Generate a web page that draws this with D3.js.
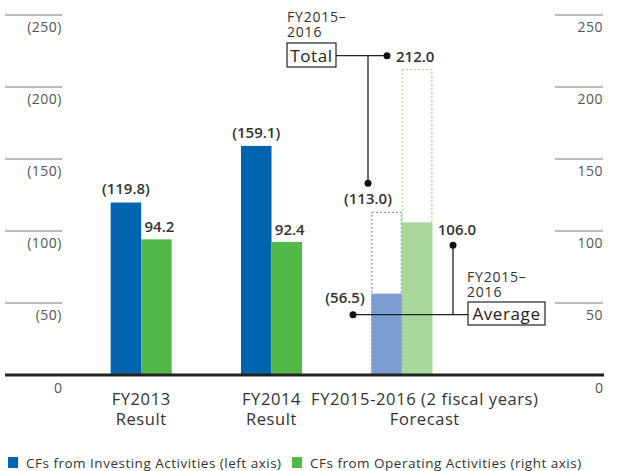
<!DOCTYPE html>
<html>
<head>
<meta charset="utf-8">
<script src="https://cdn.jsdelivr.net/npm/d3@7"></script>
<style>
  body { margin: 0; background: #fff; }
  text { font-family: "Open Sans", "Noto Sans", sans-serif; }
</style>
</head>
<body>
<div id="wrapper"></div>
<script>
// data
const categories = ["FY2013", "FY2014", "FY2015-2016"];
const categoryLines = [["FY2013", "Result"], ["FY2014", "Result"], ["FY2015-2016 (2 fiscal years)", "Forecast"]];
const investing = [119.8, 159.1, 56.5];     // left axis (shown in parentheses)
const operating = [94.2, 92.4, 106.0];      // right axis
const forecastTotals = { investing: 113.0, operating: 212.0 };
const ticks = [0, 50, 100, 150, 200, 250];
const legendLabels = ["CFs from Investing Activities (left axis)", "CFs from Operating Activities (right axis)"];

let dimensions = {
  width: 619,
  height: 471,
  top: 15,
  zero: 375
}

const blue = "#0064b1", green = "#52b848";
const lightBlue = "#7c9dd2", lightGreen = "#a9d69a";
const textColor = "#333333", axisText = "#555555";

let wrapper = d3.select("#wrapper").append("svg")
  .attr("width", dimensions.width)
  .attr("height", dimensions.height);
let container = wrapper.append("g");

let yLeft = d3.scaleLinear().domain([0, 250]).range([dimensions.zero, dimensions.top]);
let yRight = d3.scaleLinear().domain([0, 250]).range([dimensions.zero, dimensions.top]);
let xScale = d3.scaleBand().domain(categories).range([76, 467]).padding(0);
let xInner = d3.scaleBand().domain(["investing", "operating"]).range([-30.5, 30.5]);

const cx = c => xScale(c) + xScale.bandwidth() / 2;

// grid segments on each side
ticks.filter(t => t > 0).forEach(t => {
  container.append("line")
    .attr("x1", 5).attr("x2", 62)
    .attr("y1", yLeft(t)).attr("y2", yLeft(t))
    .attr("stroke", "#777").attr("stroke-width", 1);
  container.append("text")
    .attr("x", 62).attr("y", yLeft(t) + 17)
    .attr("text-anchor", "end")
    .style("font-size", 14).style("letter-spacing", "0.5px").attr("fill", axisText)
    .text("(" + t + ")");
  container.append("line")
    .attr("x1", 555).attr("x2", 603)
    .attr("y1", yRight(t)).attr("y2", yRight(t))
    .attr("stroke", "#777").attr("stroke-width", 1);
  container.append("text")
    .attr("x", 603).attr("y", yRight(t) + 17)
    .attr("text-anchor", "end")
    .style("font-size", 14).style("letter-spacing", "0.5px").attr("fill", axisText)
    .text(t);
});
container.append("text")
  .attr("x", 58).attr("y", yLeft(0) + 18)
  .attr("text-anchor", "middle")
  .style("font-size", 14).attr("fill", axisText).text("0");
container.append("text")
  .attr("x", 603).attr("y", yRight(0) + 18)
  .attr("text-anchor", "end")
  .style("font-size", 14).attr("fill", axisText).text("0");

// forecast dotted outlines (2-year totals)
const last = categories[2];
container.append("rect")
  .attr("x", cx(last) + xInner("investing") + 0.5)
  .attr("y", yLeft(forecastTotals.investing))
  .attr("width", xInner.bandwidth() - 1)
  .attr("height", yLeft(0) - yLeft(forecastTotals.investing))
  .attr("fill", "none").attr("stroke", lightBlue)
  .attr("stroke-width", 1.3).attr("stroke-dasharray", "2,2");
container.append("rect")
  .attr("x", cx(last) + xInner("operating") + 0.5)
  .attr("y", yRight(forecastTotals.operating))
  .attr("width", xInner.bandwidth() - 1)
  .attr("height", yRight(0) - yRight(forecastTotals.operating))
  .attr("fill", "none").attr("stroke", lightGreen)
  .attr("stroke-width", 1.3).attr("stroke-dasharray", "2,2");

// bars
container.selectAll("rect.inv")
  .data(investing)
  .enter()
  .append("rect")
  .attr("class", "inv")
  .attr("x", (d, i) => cx(categories[i]) + xInner("investing"))
  .attr("y", d => yLeft(d))
  .attr("width", xInner.bandwidth())
  .attr("height", d => yLeft(0) - yLeft(d))
  .attr("fill", (d, i) => i == 2 ? lightBlue : blue);

container.selectAll("rect.op")
  .data(operating)
  .enter()
  .append("rect")
  .attr("class", "op")
  .attr("x", (d, i) => cx(categories[i]) + xInner("operating"))
  .attr("y", d => yRight(d))
  .attr("width", xInner.bandwidth())
  .attr("height", d => yRight(0) - yRight(d))
  .attr("fill", (d, i) => i == 2 ? lightGreen : green);

// value labels for the two result years
[0, 1].forEach(i => {
  container.append("text")
    .attr("x", cx(categories[i]) + xInner("investing") + xInner.bandwidth() / 2)
    .attr("y", yLeft(investing[i]) - 8)
    .attr("text-anchor", "middle")
    .style("font-size", 15).style("font-weight", 600).attr("fill", textColor)
    .text("(" + investing[i].toFixed(1) + ")");
  container.append("text")
    .attr("x", cx(categories[i]) + xInner("operating") + xInner.bandwidth() / 2 + 3)
    .attr("y", yRight(operating[i]) - 7)
    .attr("text-anchor", "middle")
    .style("font-size", 15).style("font-weight", 600).attr("fill", textColor)
    .text(operating[i].toFixed(1));
});

// baseline
container.append("line")
  .attr("x1", 5).attr("x2", 604)
  .attr("y1", yLeft(0)).attr("y2", yLeft(0))
  .attr("stroke", "#222").attr("stroke-width", 3);

// category labels
const labelShift = [0, 0, 23];
categoryLines.forEach((lines, i) => {
  let t = container.append("text")
    .attr("text-anchor", "middle")
    .style("font-size", 16.5).style("letter-spacing", "0.6px").attr("fill", textColor);
  lines.forEach((s, j) => {
    t.append("tspan")
      .attr("x", cx(categories[i]) + labelShift[i])
      .attr("y", 405 + j * 20)
      .text(s);
  });
});

// callouts
function callBox(x, y, w, h, label) {
  container.append("rect")
    .attr("x", x).attr("y", y).attr("width", w).attr("height", h)
    .attr("fill", "#fff").attr("stroke", "#222").attr("stroke-width", 1.2);
  container.append("text")
    .attr("x", x + w / 2).attr("y", y + h - 5.5)
    .attr("text-anchor", "middle")
    .style("font-size", 17).style("letter-spacing", "0.6px").attr("fill", "#222")
    .text(label);
}
function dot(x, y) {
  container.append("circle").attr("cx", x).attr("cy", y).attr("r", 3.5).attr("fill", "#111");
}
function line(x1, y1, x2, y2) {
  container.append("line")
    .attr("x1", x1).attr("y1", y1).attr("x2", x2).attr("y2", y2)
    .attr("stroke", "#222").attr("stroke-width", 1.3);
}
function small(x, y, lines) {
  let t = container.append("text")
    .style("font-size", 14).style("letter-spacing", "0.8px").attr("fill", textColor);
  lines.forEach((s, j) => {
    t.append("tspan").attr("x", x).attr("y", y + j * 15).text(s);
  });
}
function valueText(x, y, s, anchor) {
  container.append("text")
    .attr("x", x).attr("y", y)
    .attr("text-anchor", anchor)
    .style("font-size", 15).style("font-weight", 600).attr("fill", textColor)
    .text(s);
}

// Total
const totY = yRight(forecastTotals.operating) - 14;
small(287, 22, ["FY2015\u2013", "2016"]);
line(336, totY, 387, totY);
line(368, totY, 368, yLeft(forecastTotals.investing) - 29);
callBox(287, 43, 49, 24, "Total");
dot(387, totY);
dot(368, yLeft(forecastTotals.investing) - 29);
valueText(396, totY + 6, forecastTotals.operating.toFixed(1), "start");
valueText(368, yLeft(forecastTotals.investing) - 8, "(" + forecastTotals.investing.toFixed(1) + ")", "middle");

// Average
const avgY = yLeft(investing[2]) + 21;
line(353, avgY, 468, avgY);
line(453, avgY, 453, yRight(operating[2]) + 23);
dot(353, avgY);
dot(453, yRight(operating[2]) + 23);
valueText(457, yRight(operating[2]) + 13, operating[2].toFixed(1), "middle");
valueText(345, yLeft(investing[2]) + 9, "(" + investing[2].toFixed(1) + ")", "middle");
small(467, 282, ["FY2015\u2013", "2016"]);
callBox(468, 302, 77, 23, "Average");

// legend
const legendX = [8, 292];
legendLabels.forEach((s, i) => {
  container.append("rect")
    .attr("x", legendX[i]).attr("y", 457)
    .attr("width", 10).attr("height", 11)
    .attr("fill", i == 0 ? blue : green);
  container.append("text")
    .attr("x", legendX[i] + 18).attr("y", 468)
    .style("font-size", 13.5).style("letter-spacing", "0.5px").attr("fill", textColor)
    .text(s);
});
</script>
</body>
</html>
